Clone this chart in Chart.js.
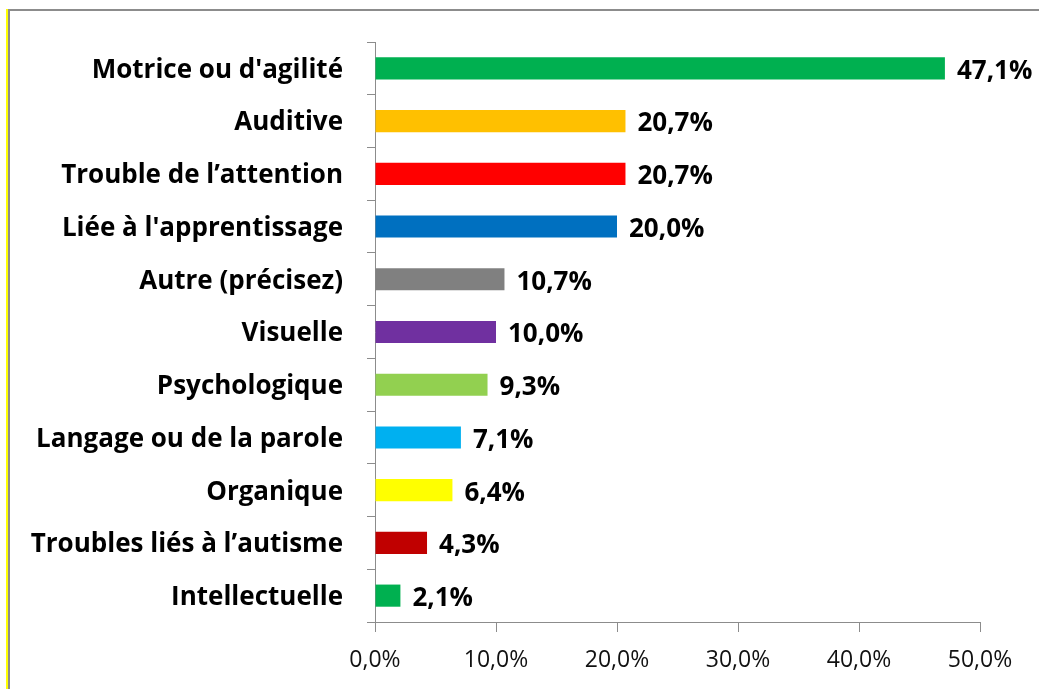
<!DOCTYPE html>
<html lang="fr">
<head>
  <meta charset="UTF-8" />
  <title>Types de handicap</title>
  <script src="https://cdn.jsdelivr.net/npm/chart.js"></script>
  <style>
    html, body { margin: 0; padding: 0; background: #fff; }
    #wrap { position: relative; width: 1039px; height: 689px; overflow: hidden; }
    #frame {
      position: absolute; left: 8px; top: 9px; width: 1100px; height: 760px;
      border-top: 2px solid #8c8c8c; border-left: 2px solid #8c8c8c;
      box-shadow: -2px 0 0 #ffff00;
    }
    canvas { position: absolute; left: 0; top: 0; }
  </style>
</head>
<body>
  <div id="wrap">
    <div id="frame"></div>
    <canvas id="chart" width="1039" height="689"></canvas>
  </div>

  <script>
    const categories = [
      "Motrice ou d'agilité",
      "Auditive",
      "Trouble de l’attention",
      "Liée à l'apprentissage",
      "Autre (précisez)",
      "Visuelle",
      "Psychologique",
      "Langage ou de la parole",
      "Organique",
      "Troubles liés à l’autisme",
      "Intellectuelle"
    ];
    const values = [47.1, 20.7, 20.7, 20.0, 10.7, 10.0, 9.3, 7.1, 6.4, 4.3, 2.1];
    const barColors = [
      "#00B050", "#FFC000", "#FF0000", "#0070C0", "#808080", "#7030A0",
      "#92D050", "#00B0F0", "#FFFF00", "#C00000", "#00B050"
    ];
    const xTicks = [0, 10, 20, 30, 40, 50];

    const fmt = v => v.toFixed(1).replace('.', ',') + '%';
    const FONT = "'Open Sans', 'DejaVu Sans', sans-serif";

    // simple value labels at the end of each bar
    const valueLabels = {
      id: 'valueLabels',
      afterDatasetsDraw(chart) {
        const ctx = chart.ctx;
        const meta = chart.getDatasetMeta(0);
        ctx.save();
        ctx.font = "bold 26px " + FONT;
        ctx.fillStyle = "#000";
        ctx.textAlign = "left";
        ctx.textBaseline = "middle";
        meta.data.forEach((bar, i) => {
          ctx.fillText(fmt(values[i]), bar.x + 12, bar.y + 3);
        });
        ctx.restore();
      }
    };

    new Chart(document.getElementById('chart'), {
      type: 'bar',
      data: {
        labels: categories,
        datasets: [{
          data: values,
          backgroundColor: barColors,
          borderWidth: 0,
          categoryPercentage: 1,
          barPercentage: 0.42
        }]
      },
      options: {
        indexAxis: 'y',
        responsive: false,
        animation: false,
        layout: { padding: { top: 42, right: 59, bottom: 0, left: 0 } },
        plugins: {
          legend: { display: false },
          tooltip: { enabled: false }
        },
        scales: {
          y: {
            afterFit(scale) { scale.width = 375; },
            grid: {
              offset: true,
              drawOnChartArea: false,
              tickLength: 8,
              color: '#8c8c8c'
            },
            border: { color: '#8c8c8c', width: 1 },
            ticks: {
              color: '#000',
              padding: 24,
              labelOffset: 2,
              font: { family: FONT, size: 26, weight: 'bold' }
            }
          },
          x: {
            min: 0,
            max: 50,
            afterFit(scale) { scale.height = 67; },
            afterBuildTicks(scale) { scale.ticks = xTicks.map(v => ({ value: v })); },
            grid: {
              drawOnChartArea: false,
              tickLength: 10,
              color: '#8c8c8c'
            },
            border: { color: '#8c8c8c', width: 1 },
            ticks: {
              color: '#111',
              padding: 15,
              maxRotation: 0,
              callback: v => fmt(v),
              font: { family: FONT, size: 23 }
            }
          }
        }
      },
      plugins: [valueLabels]
    });
  </script>
</body>
</html>
